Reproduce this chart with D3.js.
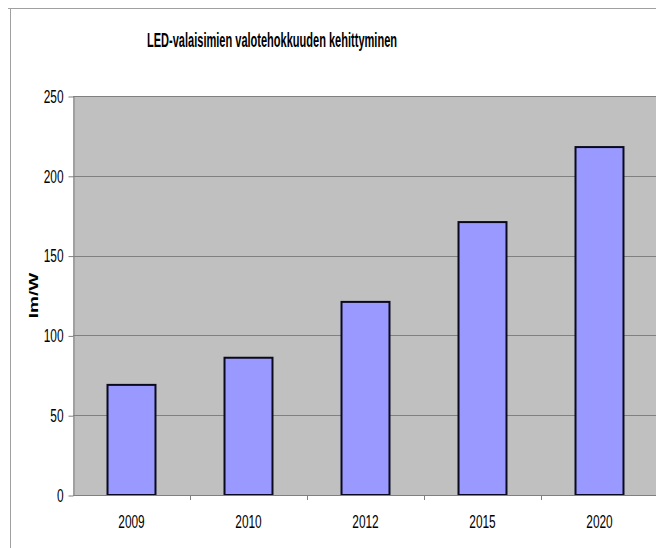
<!DOCTYPE html>
<html>
<head>
<meta charset="utf-8">
<script src="https://cdn.jsdelivr.net/npm/d3@7"></script>
<style>
body { margin: 0; background: #fff; }
text { font-family: Arial, "Liberation Sans", sans-serif; }
</style>
</head>
<body>
<div id="my_dataviz"></div>
<script>
// data
var years = ["2009", "2010", "2012", "2015", "2020"];
var efficacy = [69, 86, 121, 171, 218];
var yTicks = [0, 50, 100, 150, 200, 250];
var title = "LED-valaisimien valotehokkuuden kehittyminen";
var yLabel = "lm/W";

var W = 656, H = 548;
// plot area
var margin = {top: 96, left: 73},
    width = 585,
    height = 399;
var squeeze = 0.66; // the text in the picture is narrowed

var svg = d3.select("#my_dataviz")
    .append("svg")
    .attr("width", W)
    .attr("height", H);

// chart area border (only top and left are visible)
svg.append("line").attr("x1", 8).attr("x2", W).attr("y1", 8.5).attr("y2", 8.5)
    .attr("stroke", "#a0a0a0");
svg.append("line").attr("x1", 10.5).attr("x2", 10.5).attr("y1", 8).attr("y2", H)
    .attr("stroke", "#a0a0a0");

// title
svg.append("text")
    .attr("x", 147)
    .attr("y", 47)
    .attr("textLength", 250)
    .attr("lengthAdjust", "spacingAndGlyphs")
    .style("font-size", "20px")
    .style("font-weight", "bold")
    .text(title);

var g = svg.append("g")
    .attr("transform", "translate(" + margin.left + "," + margin.top + ")");

// scales
var x = d3.scaleBand()
    .domain(years)
    .range([0, width])
    .paddingInner(0.59)
    .paddingOuter(0.295);
var xSlot = d3.scaleBand()
    .domain(years)
    .range([0, width])
    .padding(0);
var y = d3.scaleLinear()
    .domain([0, 250])
    .range([height, 0]);

// plot background
g.append("rect")
    .attr("width", width)
    .attr("height", height)
    .attr("fill", "#c0c0c0");

// gridlines
g.append("g")
    .selectAll("line")
    .data(yTicks.filter(function(d){ return d > 0; }))
    .enter()
    .append("line")
    .attr("x1", 0)
    .attr("x2", width)
    .attr("y1", function(d){ return Math.round(y(d)) + 0.5; })
    .attr("y2", function(d){ return Math.round(y(d)) + 0.5; })
    .attr("stroke", "#808080");

// Y axis
var yAxis = g.append("g")
    .attr("transform", "translate(0.5,0.5)")
    .call(d3.axisLeft(y).tickValues(yTicks).tickSize(5).tickSizeOuter(0).tickPadding(5));
yAxis.select(".domain").attr("stroke", "#808080");
yAxis.selectAll(".tick line").attr("stroke", "#808080");
yAxis.selectAll(".tick text")
    .style("font-size", "18px")
    .attr("fill", "#000")
    .attr("transform", "scale(" + squeeze + ",1)")
    .attr("x", -10 / squeeze);

// bars
g.append("g")
    .selectAll("rect")
    .data(efficacy)
    .enter()
    .append("rect")
    .attr("x", function(d, i){ return x(years[i]); })
    .attr("y", function(d){ return y(d); })
    .attr("width", x.bandwidth())
    .attr("height", function(d){ return height - y(d); })
    .attr("fill", "#9999ff")
    .attr("stroke", "#0a0a1e")
    .attr("stroke-width", 2);

// X axis: line, ticks on slot edges, labels in the middle
g.append("line")
    .attr("x1", 0).attr("x2", width)
    .attr("y1", height + 0.5).attr("y2", height + 0.5)
    .attr("stroke", "#808080");
g.append("g")
    .selectAll("line")
    .data(years.slice(1))
    .enter()
    .append("line")
    .attr("x1", function(d){ return Math.round(xSlot(d)) + 0.5; })
    .attr("x2", function(d){ return Math.round(xSlot(d)) + 0.5; })
    .attr("y1", height)
    .attr("y2", height + 5)
    .attr("stroke", "#808080");
g.append("g")
    .selectAll("text")
    .data(years)
    .enter()
    .append("text")
    .attr("transform", function(d){
        return "translate(" + (xSlot(d) + xSlot.bandwidth() / 2) + "," + (height + 33) + ") scale(" + squeeze + ",1)";
    })
    .attr("text-anchor", "middle")
    .style("font-size", "18px")
    .text(function(d){ return d; });

// y axis label
svg.append("text")
    .attr("transform", "translate(38," + (margin.top + height / 2) + ") scale(" + squeeze + ",1) rotate(-90)")
    .attr("text-anchor", "middle")
    .style("font-size", "19px")
    .style("font-weight", "bold")
    .text(yLabel);
</script>
</body>
</html>
